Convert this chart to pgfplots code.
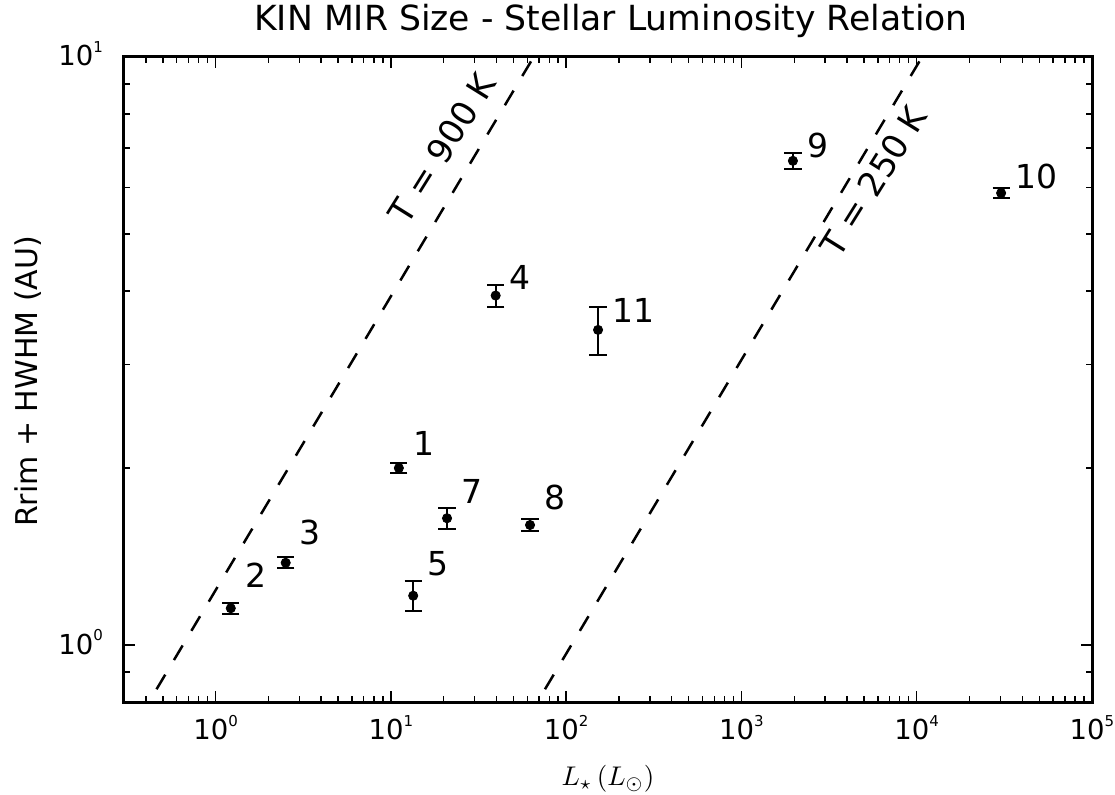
\documentclass[border=0pt]{standalone}
\usepackage{fontspec}
\setmainfont{DejaVu Sans}
\usepackage{pgfplots}
\pgfplotsset{compat=1.18}

% tick label 10^n in the text font
\newcommand{\decade}[1]{10\raisebox{6.7pt}{\fontsize{7.5}{7.5}\selectfont #1}}

\begin{document}
\begin{tikzpicture}
\useasboundingbox (-62pt,-46pt) rectangle (495.5pt,351pt);
\begin{axis}[
    at={(0pt,0pt)}, anchor=south west,
    scale only axis,
    width=484pt, height=322.5pt,
    xmode=log, ymode=log,
    xmin=0.3, xmax=1e5,
    ymin=0.8, ymax=10,
    xtick={1,10,100,1000,10000,100000},
    xticklabels={\decade{0},\decade{1},\decade{2},\decade{3},\decade{4},\decade{5}},
    minor xtick={0.4,0.5,0.6,0.7,0.8,0.9,2,3,4,5,6,7,8,9,20,30,40,50,60,70,80,90,
                 200,300,400,500,600,700,800,900,2000,3000,4000,5000,6000,7000,8000,9000,
                 20000,30000,40000,50000,60000,70000,80000,90000},
    ytick={1,10},
    yticklabels={\decade{0},\decade{1}},
    minor ytick={0.9,2,3,4,5,6,7,8,9},
    tick align=inside,
    major tick length=5.5pt,
    minor tick length=2.8pt,
    tick style={line width=0.7pt, black},
    axis line style={line width=1.5pt},
    xticklabel style={anchor=base, yshift=-18.7pt, inner sep=0pt, font=\fontsize{13.75}{16}\selectfont},
    yticklabel style={anchor=base east, xshift=-10.3pt, yshift=-4.5pt, inner sep=0pt, font=\fontsize{13.75}{16}\selectfont},
    title={KIN MIR Size - Stellar Luminosity Relation},
    title style={at={(axis description cs:0.5,1)}, anchor=base, xshift=1.5pt, yshift=7.2pt, inner sep=0pt, font=\fontsize{17.3}{20}\selectfont},
    xlabel={\scalebox{1.35}{$L_{\star}\,(L_{\odot})$}},
    xlabel style={at={(axis description cs:0.5,0)}, anchor=base, yshift=-41.5pt, inner sep=0pt},
    ylabel={Rrim + HWHM (AU)},
    ylabel style={at={(axis description cs:-0.0895,0.497)}, anchor=base, rotate=0, inner sep=0pt, font=\fontsize{15}{18}\selectfont},
    clip=true,
]

% T = 900 K and T = 250 K
\addplot[black, line width=1.25pt, dash pattern=on 8.5pt off 8.5pt] coordinates {(0.46,0.841) (65.2,10)};
\addplot[black, line width=1.25pt, dash pattern=on 8.5pt off 8.5pt] coordinates {(75.7,0.841) (10720,10)};

\addplot[only marks, mark=*, mark size=2.3pt, black,
    error bars/.cd, y dir=both, y explicit,
    error bar style={line width=1pt, black},
    error mark options={rotate=90, line width=1pt, mark size=4.3pt, black}]
coordinates {
    (11.1,2.00)   +- (0,0.04)
    (1.22,1.155)  +- (0,0.025)
    (2.51,1.38)   +- (0,0.03)
    (39.6,3.93)   +- (0,0.17)
    (13.4,1.213)  +- (0,0.07)
    (20.9,1.643)  +- (0,0.07)
    (62.2,1.60)   +- (0,0.036)
    (1966,6.66)   +- (0,0.21)
    (30300,5.87)  +- (0,0.11)
    (152,3.435)   +- (0,0.32)
};

\begin{scope}[every node/.style={anchor=base west, inner sep=0pt, font=\fontsize{16.5}{19}\selectfont}]
\node at (axis cs:13.3,2.10)   {1};
\node at (axis cs:1.464,1.255) {2};
\node at (axis cs:3.01,1.48)   {3};
\node at (axis cs:47.5,4.03)   {4};
\node at (axis cs:16.1,1.313)  {5};
\node at (axis cs:25.1,1.743)  {7};
\node at (axis cs:74.6,1.70)   {8};
\node at (axis cs:2359,6.76)   {9};
\node at (axis cs:36360,5.97)  {10};
\node at (axis cs:182,3.535)   {11};
\end{scope}

\node[rotate=58, inner sep=0pt, font=\fontsize{17}{20}\selectfont] at (axis cs:19.6,7.0) {T = 900 K};
\node[rotate=58, inner sep=0pt, font=\fontsize{17}{20}\selectfont] at (axis cs:5650,6.15) {T = 250 K};

\end{axis}
\end{tikzpicture}
\end{document}
